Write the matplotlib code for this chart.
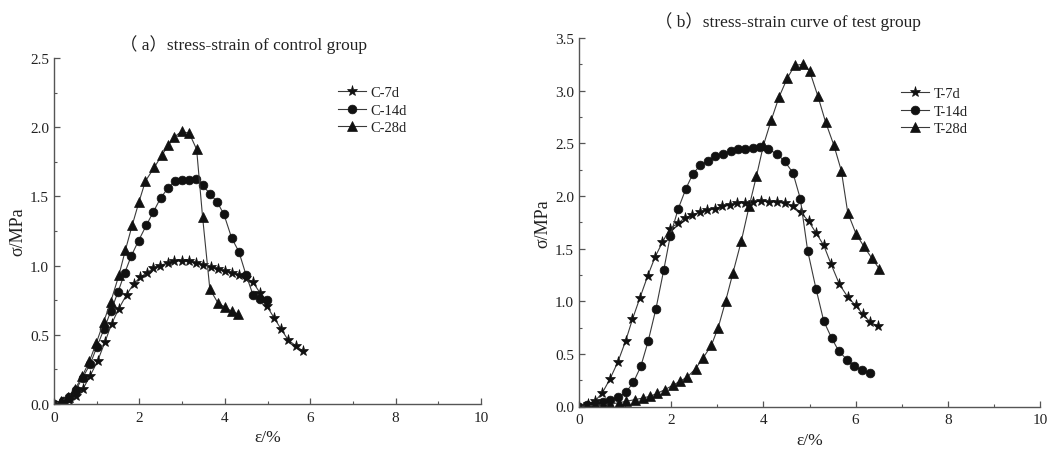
"""
Stress-strain curves, control group vs test group.
"""

import matplotlib
matplotlib.use('Agg')
import matplotlib.pyplot as plt
from matplotlib.ticker import MultipleLocator, FormatStrFormatter

plt.rcParams['font.family'] = ['Liberation Serif', 'Noto Sans CJK SC']

# ---- control group (a) ----
c7_x = [0, 0.17, 0.34, 0.51, 0.68, 0.84, 1.02, 1.19, 1.35, 1.52, 1.70, 1.87, 2.02, 2.18,
        2.33, 2.49, 2.66, 2.82, 2.99, 3.16, 3.33, 3.50, 3.67, 3.83, 4.00, 4.17, 4.33, 4.50,
        4.66, 4.83, 4.99, 5.16, 5.32, 5.49, 5.67, 5.84]
c7_y = [0, 0.01, 0.03, 0.06, 0.11, 0.20, 0.31, 0.445, 0.58, 0.69, 0.79, 0.87, 0.915, 0.95,
        0.98, 1.0, 1.02, 1.03, 1.035, 1.03, 1.02, 1.005, 0.99, 0.975, 0.96, 0.95, 0.93, 0.91,
        0.88, 0.80, 0.705, 0.62, 0.54, 0.46, 0.42, 0.38]

c14_x = [0, 0.2, 0.36, 0.51, 0.67, 0.85, 1.0, 1.17, 1.33, 1.50, 1.66, 1.81, 1.98, 2.16,
         2.33, 2.50, 2.67, 2.84, 2.99, 3.16, 3.33, 3.48, 3.65, 3.82, 3.98, 4.16, 4.33, 4.50,
         4.66, 4.83, 4.99]
c14_y = [0, 0.02, 0.05, 0.10, 0.19, 0.29, 0.41, 0.54, 0.67, 0.81, 0.95, 1.07, 1.18, 1.29,
         1.39, 1.49, 1.56, 1.61, 1.615, 1.62, 1.625, 1.58, 1.52, 1.46, 1.37, 1.20, 1.10, 0.93,
         0.79, 0.76, 0.75]

c28_x = [0, 0.16, 0.33, 0.50, 0.66, 0.83, 0.99, 1.16, 1.33, 1.52, 1.67, 1.83, 1.99, 2.14,
         2.35, 2.53, 2.68, 2.82, 2.99, 3.17, 3.34, 3.48, 3.65, 3.84, 4.0, 4.16, 4.31]
c28_y = [0, 0.02, 0.05, 0.11, 0.20, 0.31, 0.44, 0.59, 0.74, 0.93, 1.11, 1.29, 1.46, 1.61,
         1.71, 1.80, 1.87, 1.93, 1.97, 1.955, 1.84, 1.35, 0.83, 0.73, 0.70, 0.67, 0.65]

# ---- test group (b) ----
t7_x = [0, 0.2, 0.35, 0.5, 0.67, 0.84, 1.01, 1.16, 1.32, 1.49, 1.65, 1.81, 1.97, 2.15,
        2.29, 2.46, 2.62, 2.78, 2.94, 3.10, 3.27, 3.43, 3.61, 3.78, 3.95, 4.12, 4.29, 4.46,
        4.64, 4.81, 4.98, 5.14, 5.31, 5.47, 5.65, 5.83, 6.0, 6.15, 6.31, 6.48]
t7_y = [0, 0.025, 0.055, 0.125, 0.26, 0.42, 0.62, 0.83, 1.03, 1.24, 1.42, 1.56, 1.69, 1.74,
        1.79, 1.82, 1.845, 1.87, 1.88, 1.90, 1.91, 1.93, 1.935, 1.945, 1.95, 1.945, 1.94, 1.93,
        1.90, 1.845, 1.76, 1.65, 1.53, 1.35, 1.16, 1.04, 0.96, 0.88, 0.805, 0.76]

t14_x = [0, 0.17, 0.34, 0.51, 0.67, 0.85, 1.02, 1.18, 1.34, 1.50, 1.67, 1.84, 1.98, 2.15,
         2.32, 2.47, 2.63, 2.80, 2.96, 3.12, 3.29, 3.45, 3.61, 3.77, 3.93, 4.10, 4.29, 4.46,
         4.64, 4.80, 4.96, 5.14, 5.31, 5.48, 5.63, 5.81, 5.97, 6.14, 6.31]
t14_y = [0, 0.01, 0.025, 0.04, 0.065, 0.09, 0.135, 0.23, 0.38, 0.62, 0.93, 1.30, 1.62, 1.875,
         2.07, 2.21, 2.29, 2.335, 2.375, 2.40, 2.43, 2.445, 2.45, 2.455, 2.46, 2.445, 2.40, 2.33,
         2.22, 1.975, 1.48, 1.12, 0.81, 0.65, 0.53, 0.445, 0.38, 0.345, 0.32]

t28_x = [0, 0.17, 0.34, 0.51, 0.68, 0.86, 1.03, 1.21, 1.38, 1.54, 1.70, 1.86, 2.03, 2.19,
         2.35, 2.53, 2.69, 2.87, 3.02, 3.18, 3.34, 3.52, 3.69, 3.85, 4.0, 4.17, 4.34, 4.52,
         4.68, 4.86, 5.0, 5.18, 5.35, 5.53, 5.69, 5.83, 6.01, 6.18, 6.35, 6.51]
t28_y = [0, 0.005, 0.01, 0.015, 0.025, 0.035, 0.05, 0.065, 0.08, 0.097, 0.125, 0.16, 0.20, 0.24,
         0.28, 0.36, 0.46, 0.58, 0.75, 1.0, 1.27, 1.57, 1.90, 2.19, 2.48, 2.72, 2.94, 3.12,
         3.24, 3.25, 3.19, 2.95, 2.70, 2.48, 2.24, 1.84, 1.64, 1.52, 1.41, 1.31]

control_labels = ['C-7d', 'C-14d', 'C-28d']
test_labels = ['T-7d', 'T-14d', 'T-28d']
markers = ['*', 'o', '^']
msizes = [8, 6.3, 6.8]

LINE = '#3a3a3a'
MARK = '#111111'
W, H = 1049, 452


def style_axis(ax, ymax):
    ax.spines['top'].set_visible(False)
    ax.spines['right'].set_visible(False)
    for s in ('left', 'bottom'):
        ax.spines[s].set_color('#555555')
        ax.spines[s].set_linewidth(1.0)
    ax.set_xlim(0, 10)
    ax.set_ylim(0, ymax)
    ax.xaxis.set_major_locator(MultipleLocator(2))
    ax.xaxis.set_minor_locator(MultipleLocator(1))
    ax.yaxis.set_major_locator(MultipleLocator(0.5))
    ax.yaxis.set_minor_locator(MultipleLocator(0.25))
    ax.yaxis.set_major_formatter(FormatStrFormatter('%.1f'))
    ax.tick_params(which='major', direction='in', length=4.5, width=0.9,
                   color='#555555', labelsize=11, labelcolor='#222222')
    ax.tick_params(which='major', axis='x', pad=5)
    ax.tick_params(which='minor', direction='in', length=2.5, width=0.8, color='#555555')
    ax.set_xlabel('ε/%', fontsize=12.5, color='#222222', labelpad=4)
    ax.set_ylabel('σ/MPa', fontsize=13, color='#222222', labelpad=3)


def draw(ax, series, labels):
    for (x, y), lab, m, ms in zip(series, labels, markers, msizes):
        ax.plot(x, y, color=LINE, lw=0.8, marker=m, ms=ms, mfc=MARK, mec=MARK,
                mew=0.5, label=lab)


fig = plt.figure(figsize=(W / 100, H / 100), dpi=100)
ax1 = fig.add_axes([54 / W, 1 - 405 / H, 427 / W, 346 / H])
ax2 = fig.add_axes([579 / W, 1 - 407.5 / H, 461 / W, 368.5 / H])

draw(ax1, [(c7_x, c7_y), (c14_x, c14_y), (c28_x, c28_y)], control_labels)
draw(ax2, [(t7_x, t7_y), (t14_x, t14_y), (t28_x, t28_y)], test_labels)
style_axis(ax1, 2.5)
style_axis(ax2, 3.5)

fig.text(244 / W, 1 - 45 / H, '（ a）stress-strain of control group', ha='center', va='center',
         fontsize=12.5, color='#222222')
fig.text(788 / W, 1 - 22 / H, '（ b）stress-strain curve of test group', ha='center', va='center',
         fontsize=12.5, color='#222222')

for ax, x0, y0 in [(ax1, 338, 87), (ax2, 901, 88)]:
    leg = ax.legend(loc='upper left', bbox_to_anchor=(x0 / W, 1 - y0 / H),
                    bbox_transform=fig.transFigure, frameon=False, fontsize=10.5,
                    handlelength=1.9, handletextpad=0.35, labelspacing=0.3,
                    borderpad=0, borderaxespad=0)
    for t in leg.get_texts():
        t.set_color('#222222')

fig.savefig('out.png', dpi=100)
